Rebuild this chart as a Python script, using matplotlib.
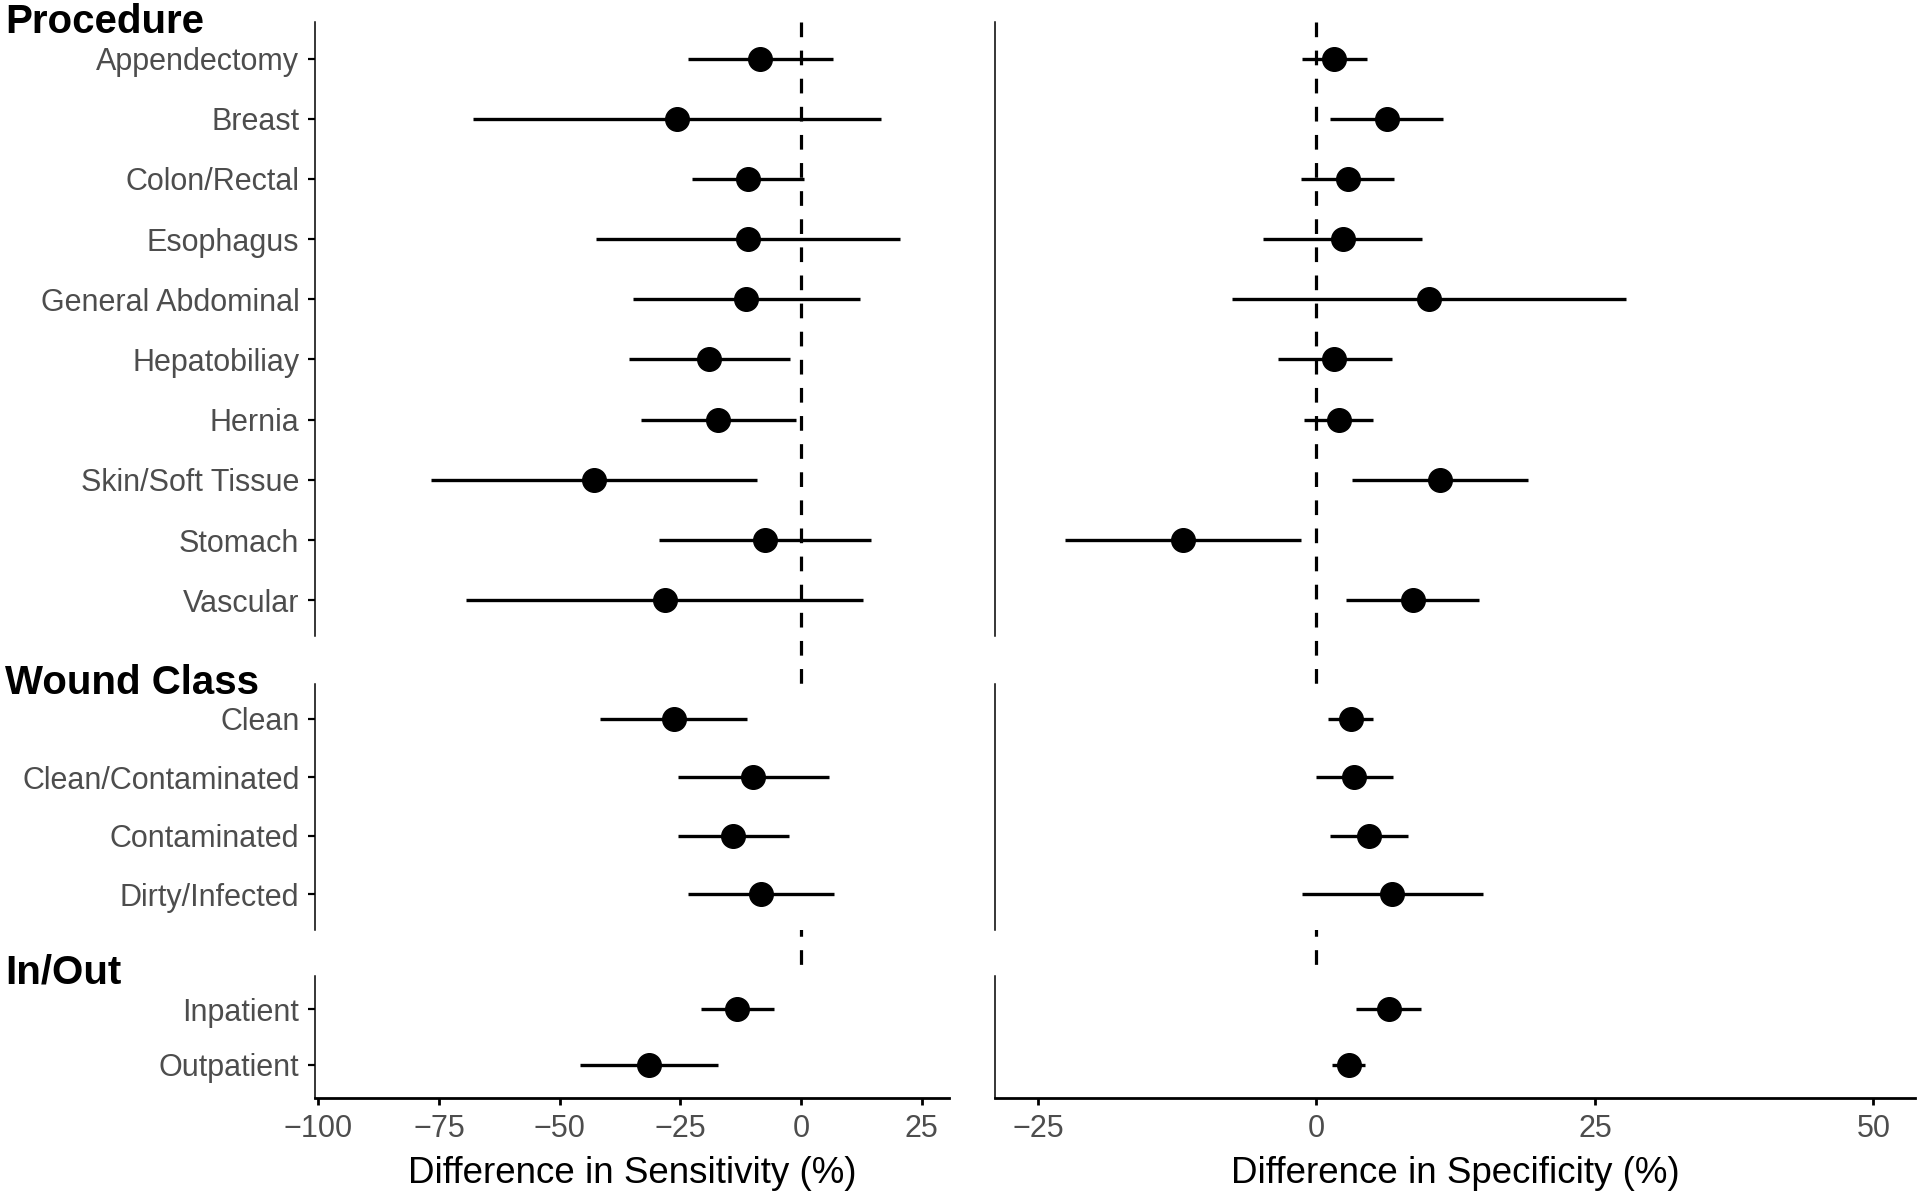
import matplotlib
matplotlib.use("Agg")
import matplotlib.pyplot as plt
from matplotlib.transforms import blended_transform_factory

plt.rcParams['font.family'] = ['Liberation Sans', 'DejaVu Sans']

# procedure group
proc_labels = ["Appendectomy", "Breast", "Colon/Rectal", "Esophagus", "General Abdominal",
               "Hepatobiliay", "Hernia", "Skin/Soft Tissue", "Stomach", "Vascular"]
proc_sens = [-8.5, -25.8, -10.9, -10.9, -11.5, -19.0, -17.1, -43.0, -7.5, -28.2]
proc_sens_lo = [-23.5, -67.9, -22.5, -42.4, -34.9, -35.7, -33.2, -76.6, -29.4, -69.4]
proc_sens_hi = [6.6, 16.5, 0.6, 20.6, 12.3, -2.3, -1.0, -9.1, 14.5, 12.9]
proc_spec = [1.6, 6.3, 2.8, 2.4, 10.1, 1.6, 2.0, 11.1, -12.0, 8.7]
proc_spec_lo = [-1.3, 1.2, -1.4, -4.8, -7.6, -3.4, -1.1, 3.2, -22.6, 2.7]
proc_spec_hi = [4.5, 11.4, 7.0, 9.5, 27.8, 6.8, 5.1, 19.0, -1.4, 14.6]

# wound class group
wound_labels = ["Clean", "Clean/Contaminated", "Contaminated", "Dirty/Infected"]
wound_sens = [-26.4, -9.9, -14.0, -8.2]
wound_sens_lo = [-41.6, -25.5, -25.5, -23.4]
wound_sens_hi = [-11.2, 5.8, -2.5, 6.9]
wound_spec = [3.1, 3.4, 4.7, 6.8]
wound_spec_lo = [1.0, 0.0, 1.2, -1.3]
wound_spec_hi = [5.1, 6.9, 8.2, 15.0]

# in/out group
inout_labels = ["Inpatient", "Outpatient"]
inout_sens = [-13.2, -31.5]
inout_sens_lo = [-20.7, -45.7]
inout_sens_hi = [-5.6, -17.3]
inout_spec = [6.5, 2.9]
inout_spec_lo = [3.6, 1.4]
inout_spec_hi = [9.4, 4.4]

headings = ["Procedure", "Wound Class", "In/Out"]
sens_ticks = [-100, -75, -50, -25, 0, 25]
spec_ticks = [-25, 0, 25, 50]

groups = [
    (proc_labels, (proc_sens, proc_sens_lo, proc_sens_hi), (proc_spec, proc_spec_lo, proc_spec_hi)),
    (wound_labels, (wound_sens, wound_sens_lo, wound_sens_hi), (wound_spec, wound_spec_lo, wound_spec_hi)),
    (inout_labels, (inout_sens, inout_sens_lo, inout_sens_hi), (inout_spec, inout_spec_lo, inout_spec_hi)),
]

W, H = 1920, 1191
fig = plt.figure(figsize=(W / 100, H / 100), dpi=100)

# panel extents in pixels (top, bottom) / (left, right)
rows = [(22.4, 636.4), (683.7, 929.5), (976.2, 1097.8)]
cols = [(315.4, 949.0), (995.5, 1915.0)]
xlims = [(-100.64, 30.67), (-28.8, 53.73)]
heading_y = [33, 694, 983]
grey = '#4D4D4D'

axes = [[None, None] for _ in rows]
for r, (labels, sens, spec) in enumerate(groups):
    y0, y1 = rows[r]
    n = len(labels)
    ypos = list(range(n))
    for c, (est, lo, hi) in enumerate([sens, spec]):
        x0, x1 = cols[c]
        ax = fig.add_axes([x0 / W, 1 - y1 / H, (x1 - x0) / W, (y1 - y0) / H])
        axes[r][c] = ax
        ax.hlines(ypos, lo, hi, color='black', lw=2.4, zorder=2)
        ax.plot(est, ypos, 'o', color='black', ms=17, zorder=3)
        ax.set_xlim(*xlims[c])
        ax.set_ylim(n - 1 + 0.6, -0.6)
        ax.spines['top'].set_visible(False)
        ax.spines['right'].set_visible(False)
        ax.spines['left'].set_linewidth(1.1)
        ax.set_yticks(ypos)
        if c == 0:
            ax.set_yticklabels(labels)
            ax.tick_params(axis='y', length=5, width=1.6, pad=6.5,
                           labelsize=22, labelcolor=grey)
        else:
            ax.tick_params(axis='y', length=0, labelleft=False)
        if r == len(rows) - 1:
            ax.spines['bottom'].set_linewidth(2.0)
            ax.spines['bottom'].set_capstyle('projecting')
            ax.set_xticks(sens_ticks if c == 0 else spec_ticks)
            ax.tick_params(axis='x', length=5, width=2.0, pad=6.5,
                           labelsize=22, labelcolor=grey)
            ax.set_xlabel("Difference in Sensitivity (%)" if c == 0 else "Difference in Specificity (%)",
                          fontsize=26.5, labelpad=9)
        else:
            ax.spines['bottom'].set_visible(False)
            ax.set_xticks([])
    fig.text(5 / W, 1 - heading_y[r] / H, headings[r], fontsize=29, fontweight='bold',
             ha='left', va='baseline')

# dashed zero line running through all three panels of each column
for c in range(2):
    ax = axes[0][c]
    tr = blended_transform_factory(ax.transData, fig.transFigure)
    ax.plot([0, 0], [1 - rows[0][0] / H, 1 - rows[-1][1] / H], transform=tr,
            color='black', lw=2.3, dashes=(4.6, 4.2), clip_on=False, zorder=1)

fig.savefig("out.png", dpi=100)
